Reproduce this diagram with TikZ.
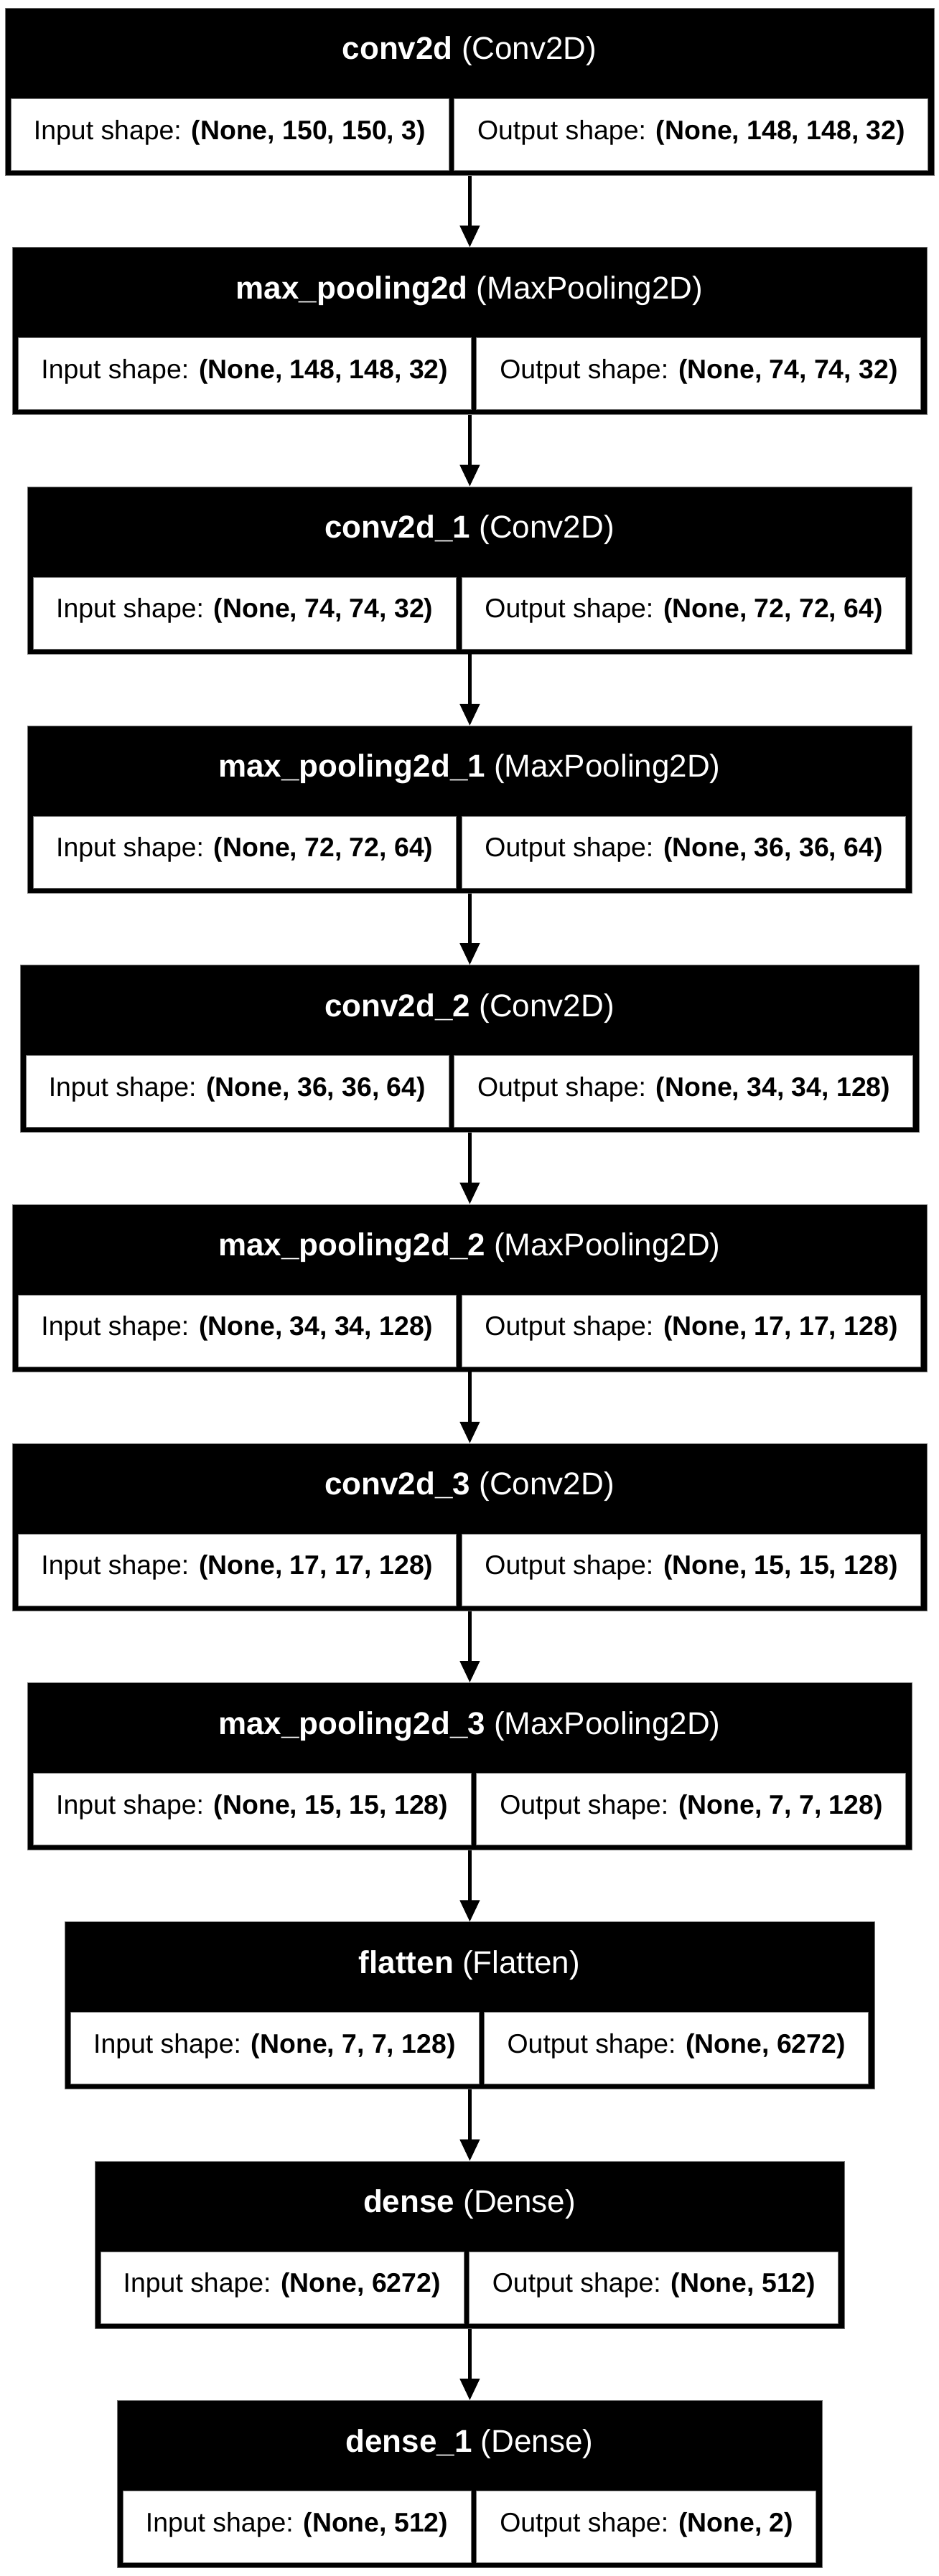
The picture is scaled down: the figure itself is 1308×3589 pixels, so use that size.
\documentclass[tikz,border=0pt]{standalone}
\usepackage{fontspec}
\setmainfont{Liberation Sans}
\usetikzlibrary{arrows.meta}
\newbox\cellboxA
\newbox\cellboxB
\newdimen\cellwA
\newdimen\cellwB
\newcommand\subfont{\fontsize{37.4}{44}\selectfont}
\newcommand\headfont{\fontsize{44}{52}\selectfont}
\tikzset{
  blockbox/.style={fill=black, draw=black!55, line width=0.8pt, inner sep=0pt, minimum height=233pt},
  headtext/.style={text=white, font=\headfont, inner sep=0pt, anchor=base},
  cellbox/.style={fill=white, draw=black!55, line width=0.8pt, inner sep=0pt, minimum height=100pt},
  celltext/.style={text=black, font=\subfont, inner sep=0pt, anchor=base},
  flowarrow/.style={line width=4.5pt, -{Triangle[length=30pt,width=27pt]}},
}
\newcommand\layer[6]{%
  \pgfinterruptpicture
    \global\setbox\cellboxA=\hbox{\subfont Input shape: \textbf{#5}}%
    \global\setbox\cellboxB=\hbox{\subfont Output shape: \textbf{#6}}%
    \global\cellwA=\wd\cellboxA
    \global\cellwB=\wd\cellboxB
  \endpgfinterruptpicture
  \global\advance\cellwA by 64pt
  \global\advance\cellwB by 64pt
  \pgfmathsetmacro\ytop{11+#2*333.3}%
  \pgfmathsetmacro\wtot{\cellwA+\cellwB+24}%
  \pgfmathsetmacro\xl{654-\wtot/2}%
  \pgfmathsetmacro\xi{\xl+8+\cellwA/2}%
  \pgfmathsetmacro\xo{\xl+\wtot-8-\cellwB/2}%
  \node[blockbox, minimum width=\wtot pt, anchor=north west] (#1) at (\xl,\ytop) {};
  \node[headtext] (#1h) at (654,\ytop+72) {\textbf{#3} #4};
  \node[cellbox, minimum width=\cellwA, anchor=north west] (#1i) at (\xl+8,\ytop+126) {};
  \node[cellbox, minimum width=\cellwB, anchor=north east] (#1o) at (\xl+\wtot-8,\ytop+126) {};
  \node[celltext] (#1it) at (\xi,\ytop+183) {Input shape: \textbf{#5}};
  \node[celltext] (#1ot) at (\xo,\ytop+183) {Output shape: \textbf{#6}};
}
\begin{document}
\begin{tikzpicture}[x=1pt,y=-1pt]
\fill[white] (0,0) rectangle (1308,3589);
\useasboundingbox (0,0) rectangle (1308,3589);
\layer{L1}{0}{conv2d}{(Conv2D)}{(None, 150, 150, 3)}{(None, 148, 148, 32)}
\layer{L2}{1}{max\_pooling2d}{(MaxPooling2D)}{(None, 148, 148, 32)}{(None, 74, 74, 32)}
\layer{L3}{2}{conv2d\_1}{(Conv2D)}{(None, 74, 74, 32)}{(None, 72, 72, 64)}
\layer{L4}{3}{max\_pooling2d\_1}{(MaxPooling2D)}{(None, 72, 72, 64)}{(None, 36, 36, 64)}
\layer{L5}{4}{conv2d\_2}{(Conv2D)}{(None, 36, 36, 64)}{(None, 34, 34, 128)}
\layer{L6}{5}{max\_pooling2d\_2}{(MaxPooling2D)}{(None, 34, 34, 128)}{(None, 17, 17, 128)}
\layer{L7}{6}{conv2d\_3}{(Conv2D)}{(None, 17, 17, 128)}{(None, 15, 15, 128)}
\layer{L8}{7}{max\_pooling2d\_3}{(MaxPooling2D)}{(None, 15, 15, 128)}{(None, 7, 7, 128)}
\layer{L9}{8}{flatten}{(Flatten)}{(None, 7, 7, 128)}{(None, 6272)}
\layer{L10}{9}{dense}{(Dense)}{(None, 6272)}{(None, 512)}
\layer{L11}{10}{dense\_1}{(Dense)}{(None, 512)}{(None, 2)}
\foreach \a/\b in {L1/L2,L2/L3,L3/L4,L4/L5,L5/L6,L6/L7,L7/L8,L8/L9,L9/L10,L10/L11}
  \draw[flowarrow] (\a.south) -- (\b.north);
\end{tikzpicture}
\end{document}
